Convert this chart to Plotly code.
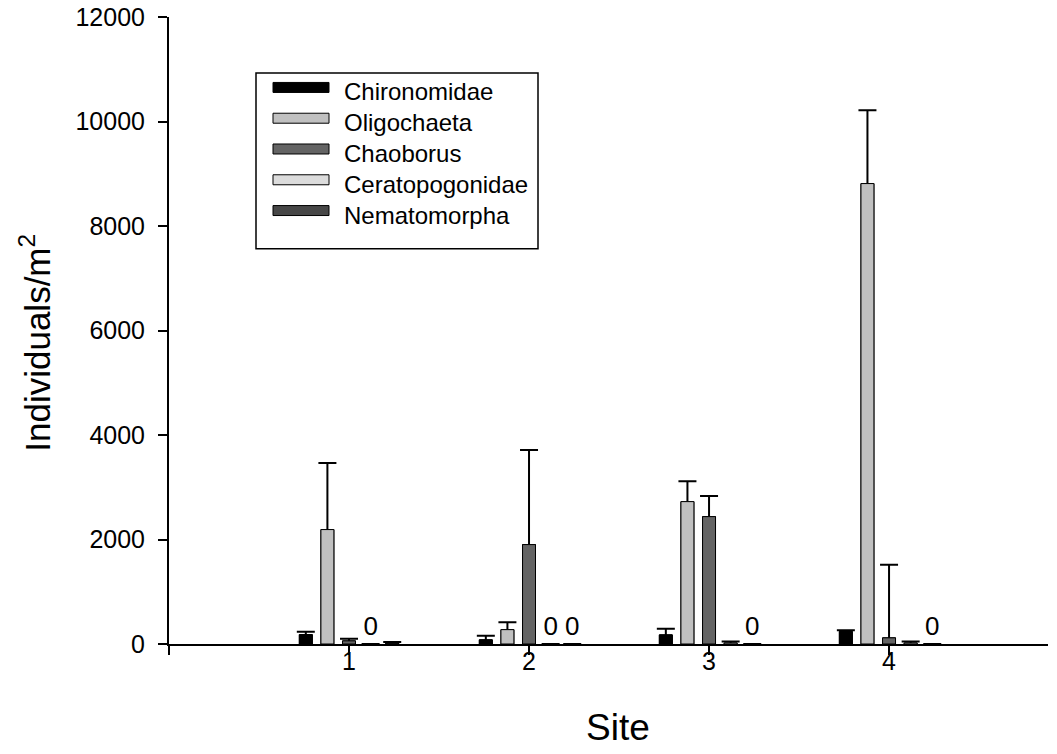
import plotly.graph_objects as go

# ---------------- data ----------------
sites = [1, 2, 3, 4]
site_labels = ["1", "2", "3", "4"]
taxa = ["Chironomidae", "Oligochaeta", "Chaoborus", "Ceratopogonidae", "Nematomorpha"]

chironomidae = [180, 80, 175, 240]
chironomidae_err = [55, 80, 115, 25]
oligochaeta = [2190, 275, 2725, 8812]
oligochaeta_err = [1275, 140, 390, 1404]
chaoborus = [60, 1903, 2438, 118]
chaoborus_err = [40, 1811, 396, 1397]
ceratopogonidae = [0, 0, 20, 20]
ceratopogonidae_err = [0, 0, 30, 30]
nematomorpha = [15, 0, 0, 0]
nematomorpha_err = [25, 0, 0, 0]

y_ticks = [0, 2000, 4000, 6000, 8000, 10000, 12000]
y_tick_labels = ["0", "2000", "4000", "6000", "8000", "10000", "12000"]

# ---------------- styling ----------------
values = [chironomidae, oligochaeta, chaoborus, ceratopogonidae, nematomorpha]
errors = [chironomidae_err, oligochaeta_err, chaoborus_err, ceratopogonidae_err, nematomorpha_err]
colors = ["#000000", "#c0c0c0", "#646464", "#dcdcdc", "#474747"]
FONT = "Arial, Liberation Sans, sans-serif"

W, H = 1057, 754
L, R, T, B = 169, 1048, 17, 644.5


def px_x(p):
    return (p - L) / (R - L)


def px_y(p):
    return (B - p) / (B - T)


fig = go.Figure()

# bars carrying the upper error whiskers (whisker runs down through the bar, hidden below)
for name, vals, errs, col in zip(taxa, values, errors, colors):
    up = [e if v > 0 else None for v, e in zip(vals, errs)]
    down = [v + 500 if v > 0 else None for v in vals]
    fig.add_trace(go.Bar(
        x=sites, y=vals, name=name, offsetgroup=name,
        marker=dict(color=col, line=dict(color="#000000", width=1)),
        error_y=dict(type="data", symmetric=False, array=up, arrayminus=down,
                     color="#000000", thickness=2, width=9),
        showlegend=False, hoverinfo="skip",
    ))

# same bars drawn on top, hiding the lower part of the whiskers; zero values labelled "0"
for name, vals, col in zip(taxa, values, colors):
    fig.add_trace(go.Bar(
        x=sites, y=vals, name=name, offsetgroup=name,
        marker=dict(color=col, line=dict(color="#000000", width=1)),
        text=["0" if v == 0 else None for v in vals],
        textposition="outside", constraintext="none", cliponaxis=False,
        textfont=dict(family=FONT, size=26, color="#000000"),
        outsidetextfont=dict(family=FONT, size=26, color="#000000"),
        showlegend=False,
    ))

shapes = []
annotations = []

# legend box
shapes.append(dict(type="rect", xref="paper", yref="paper",
                   x0=px_x(256), x1=px_x(538), y0=px_y(249), y1=px_y(73),
                   line=dict(color="#000000", width=1.5), fillcolor="rgba(255,255,255,0)"))
for i, (name, col) in enumerate(zip(taxa, colors)):
    top = 82.5 + 30.8 * i
    shapes.append(dict(type="rect", xref="paper", yref="paper",
                       x0=px_x(273), x1=px_x(329), y0=px_y(top + 10), y1=px_y(top),
                       line=dict(color="#000000", width=1), fillcolor=col))
    annotations.append(dict(text=name, xref="paper", yref="paper",
                            x=px_x(342), y=px_y(top + 9.5), xanchor="left", yanchor="middle",
                            showarrow=False, font=dict(family=FONT, size=24, color="#000000")))

# axis titles
annotations.append(dict(text="Site", xref="paper", yref="paper",
                        x=px_x(618), y=px_y(728), xanchor="center", yanchor="middle",
                        showarrow=False, font=dict(family=FONT, size=37, color="#000000")))
annotations.append(dict(text="Individuals/m<sup>2</sup>", xref="paper", yref="paper",
                        x=px_x(35), y=px_y(343), xanchor="center", yanchor="middle",
                        textangle=-90, showarrow=False,
                        font=dict(family=FONT, size=35, color="#000000")))

fig.update_layout(
    width=W, height=H,
    margin=dict(l=L, r=W - R, t=T, b=H - B, pad=0, autoexpand=False),
    paper_bgcolor="#ffffff", plot_bgcolor="#ffffff",
    barmode="group", bargap=0.4, bargroupgap=0.4,
    font=dict(family=FONT, color="#000000"),
    shapes=shapes, annotations=annotations,
    xaxis=dict(type="linear", range=[0, 4.883], tickvals=[0] + sites, ticktext=[" "] + site_labels,
               ticks="outside", ticklen=9, tickwidth=2, tickcolor="#000000",
               showline=True, linewidth=2, linecolor="#000000",
               showgrid=False, zeroline=False, automargin=False,
               tickfont=dict(family=FONT, size=25, color="#000000"), ticklabelstandoff=-15),
    yaxis=dict(range=[0, 12000], tickvals=y_ticks, ticktext=y_tick_labels,
               ticks="outside", ticklen=9, tickwidth=2, tickcolor="#000000",
               showline=True, linewidth=2, linecolor="#000000",
               showgrid=False, zeroline=False, automargin=False,
               tickfont=dict(family=FONT, size=25, color="#000000"), ticklabelstandoff=8),
)

fig.write_html("out.html")
